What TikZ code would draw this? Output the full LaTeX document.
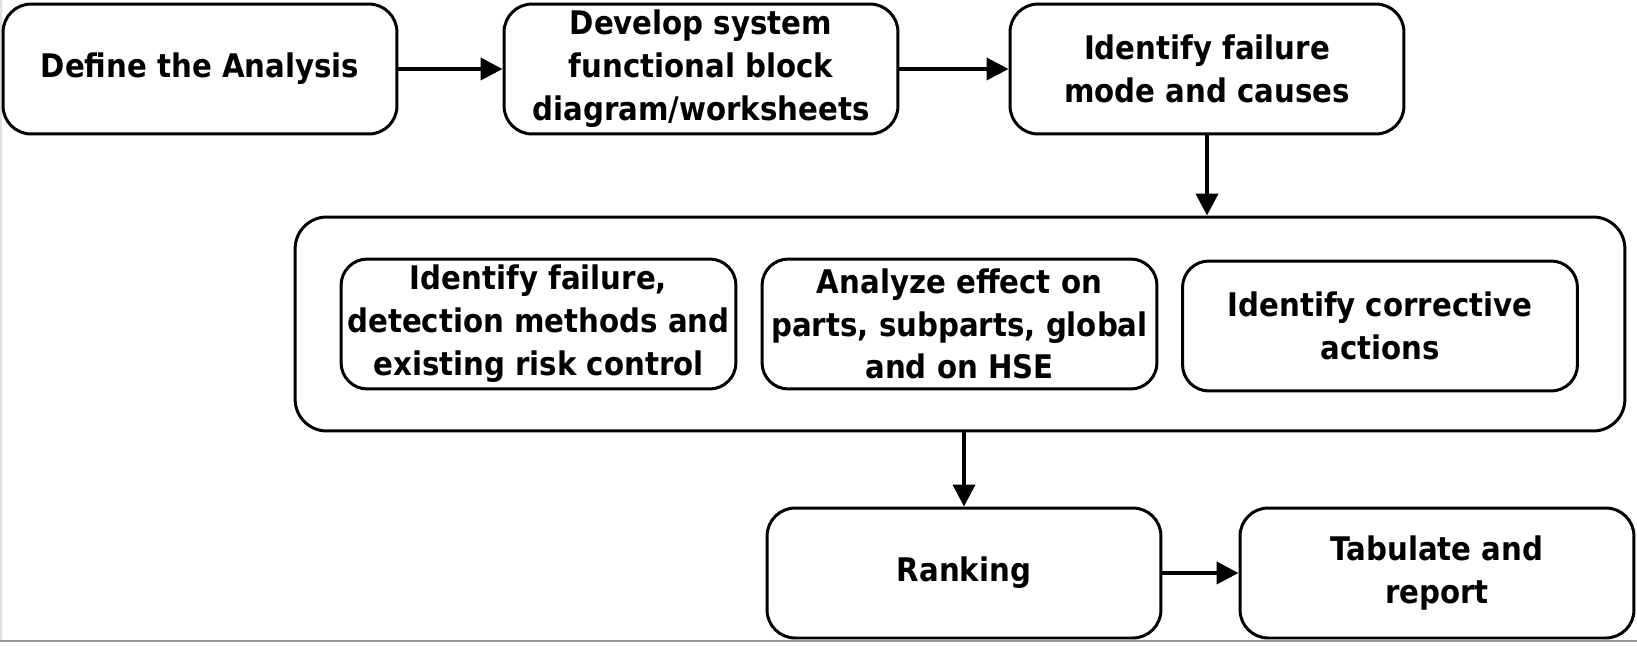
\documentclass[tikz,border=0pt]{standalone}
\usepackage{fontspec}
\setmainfont{DejaVu Sans Condensed}
\usetikzlibrary{arrows.meta}
\tikzset{
  box/.style={draw=black, line width=1.7pt, rounded corners=16pt, align=center,
    minimum width=7.88cm, minimum height=2.6cm, inner sep=0pt,
    font=\fontsize{18.5}{24.4}\selectfont\bfseries},
  inbox/.style={box, minimum width=7.9cm, rounded corners=15pt},
  cont/.style={draw=black, line width=1.7pt, rounded corners=18pt,
    minimum width=26.6cm, minimum height=4.28cm, inner sep=0pt},
  arr/.style={line width=2.2pt, -{Triangle[length=12.5pt,width=12.5pt]}}
}
\begin{document}
\begin{tikzpicture}[x=0.02cm, y=-0.02cm]
\useasboundingbox (0,0) rectangle (1637,646);
\fill[white] (0,0) rectangle (1637,646);
\draw[draw={rgb,255:red,225;green,225;blue,225}, line width=1pt] (1,0) -- (1,641);
\draw[draw={rgb,255:red,150;green,150;blue,150}, line width=1.2pt] (0,641) -- (1637,641);

\node[box] (b1) at (200,69) {Define the Analysis};
\node[box] (b2) at (701,69) {Develop system\\functional block\\diagram/worksheets};
\node[box] (b3) at (1207,69) {Identify failure\\mode and causes};

\node[cont] (c) at (960,324) {};
\node[inbox] (ia) at (538.5,324) {Identify failure,\\detection methods and\\existing risk control};
\node[inbox] (ib) at (959.5,324) {Analyze effect on\\parts, subparts, global\\and on HSE};
\node[inbox] (ic) at (1380,326) {Identify corrective\\actions};

\node[box] (r) at (964,573) {Ranking};
\node[box] (t) at (1437,573) {Tabulate and\\report};

\draw[arr] (b1.east) -- (b2.west);
\draw[arr] (b2.east) -- (b3.west);
\draw[arr] (b3.south) -- (b3.south |- c.north);
\draw[arr] (r.north |- c.south) -- (r.north);
\draw[arr] (r.east) -- (t.west);
\end{tikzpicture}
\end{document}
